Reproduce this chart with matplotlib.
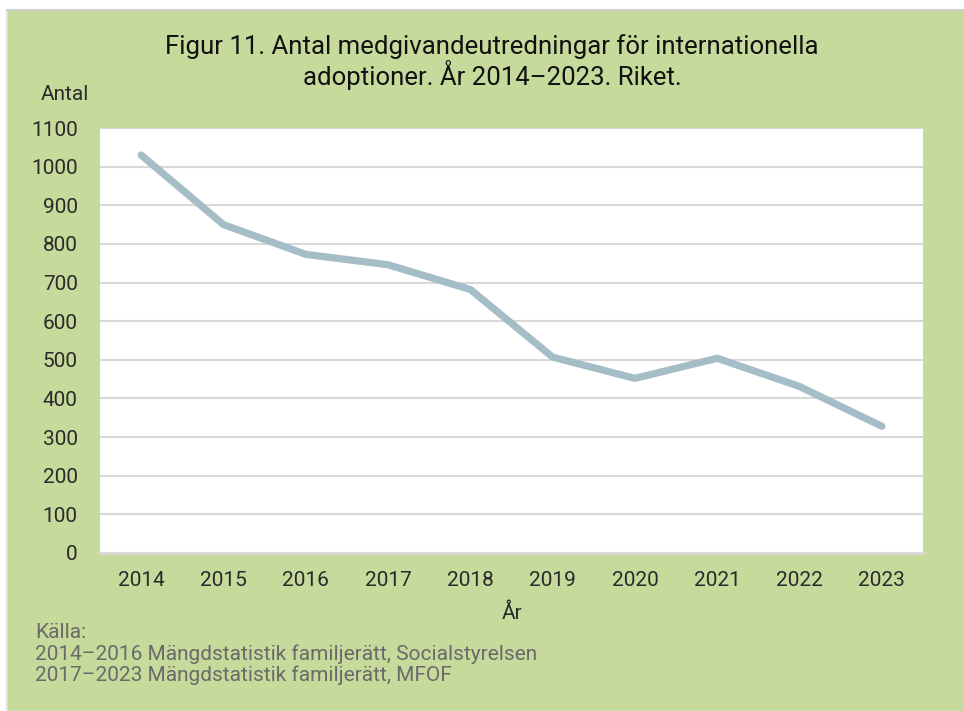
import matplotlib.pyplot as plt
import numpy as np

# Data
years = ['2014', '2015', '2016', '2017', '2018', '2019', '2020', '2021', '2022', '2023']
antal = [1030, 850, 773, 746, 682, 507, 452, 504, 431, 328]

green = '#c5da9b'
line_col = '#a5bdc7'
grid_col = '#d9d9d9'

plt.rcParams['font.family'] = ['Roboto', 'DejaVu Sans']

fig = plt.figure(figsize=(9.64, 7.11), dpi=100)
fig.patch.set_facecolor('white')

# green frame
bg = fig.add_axes([7/964, 0, 957/964, 1 - 10/711])
bg.set_facecolor(green)
bg.set_xticks([])
bg.set_yticks([])
for s in bg.spines.values():
    s.set_visible(False)
bg.spines['top'].set_visible(True)
bg.spines['top'].set_color('#d0d0d0')
bg.spines['top'].set_linewidth(1.5)
bg.spines['left'].set_visible(True)
bg.spines['left'].set_color('#e0e0e0')
bg.spines['left'].set_linewidth(1.5)

# plot area: x 100..923, y 128..553 px
ax = fig.add_axes([100/964, 1 - 553/711, 823/964, 425/711])
ax.set_facecolor('white')
x = np.arange(len(years))
ax.plot(x, antal, color=line_col, lw=5.2, solid_capstyle='round', solid_joinstyle='round', zorder=3)
ax.set_xlim(-0.5, len(years) - 0.5)
ax.set_ylim(0, 1100)
ax.set_yticks(range(0, 1101, 100))
ax.set_xticks(x)
ax.set_xticklabels(years)
ax.grid(axis='y', color=grid_col, lw=1.5)
ax.set_axisbelow(True)
for s in ['top', 'right', 'left']:
    ax.spines[s].set_visible(False)
ax.spines['bottom'].set_color(grid_col)
ax.spines['bottom'].set_linewidth(2)
ax.tick_params(length=0, labelsize=15, colors='#2a2a2a')
ax.tick_params(axis='x', pad=13)
ax.tick_params(axis='y', pad=16)

fig.text(492/964, 1 - 62/711, 'Figur 11. Antal medgivandeutredningar för internationella\nadoptioner. År 2014–2023. Riket.',
         ha='center', va='center', fontsize=18.5, color='#111111', linespacing=1.05)
fig.text(65/964, 1 - 95/711, 'Antal', ha='center', va='center', fontsize=15, color='#2a2a2a')
fig.text(512/964, 1 - 613/711, 'År', ha='center', va='center', fontsize=15, color='#2a2a2a')
fig.text(35/964, 1 - 654/711, 'Källa:\n2014–2016 Mängdstatistik familjerätt, Socialstyrelsen\n2017–2023 Mängdstatistik familjerätt, MFOF',
         ha='left', va='center', fontsize=15, color='#6a6a6a', linespacing=1.12)

fig.savefig('out.png', dpi=100, facecolor=fig.get_facecolor())
